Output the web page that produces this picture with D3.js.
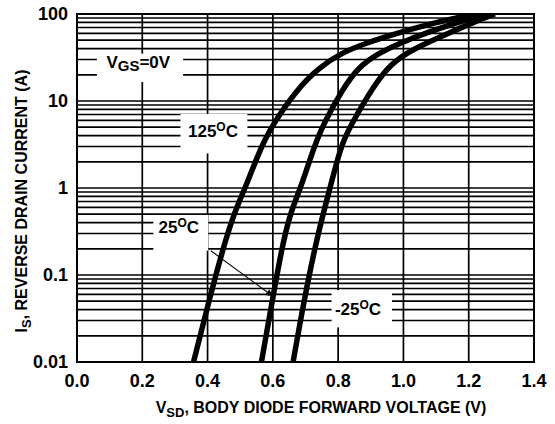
<!DOCTYPE html>
<html><head><meta charset="utf-8">
<script src="https://cdn.jsdelivr.net/npm/d3@7"></script>
<style>
html,body{margin:0;padding:0;background:#fff;}
text{font-family:"Liberation Sans",Arial,sans-serif;font-weight:bold;fill:#000;}
</style></head>
<body><svg id="c" width="555" height="424"></svg>
<script>
// ---- data ----
const xTickValues = [0.0, 0.2, 0.4, 0.6, 0.8, 1.0, 1.2, 1.4];
const yTickValues = [0.01, 0.1, 1, 10, 100];
const yTickLabels = ["0.01", "0.1", "1", "10", "100"];
const seriesNames = ["125\u00B0C", "25\u00B0C", "-25\u00B0C"];
const current125 = [0.01, 0.05, 0.2, 0.5, 1, 2.27, 3.56, 5.58, 13.4, 24.6, 35.6, 46.4, 60.6, 79, 100];
const voltage125 = [0.357, 0.404, 0.447, 0.480, 0.515, 0.552, 0.575, 0.603, 0.672, 0.744, 0.81, 0.885, 0.985, 1.09, 1.22];
const current25  = [0.01, 0.05, 0.2, 0.5, 1, 2.27, 3.56, 5.58, 13.4, 24.6, 35.6, 46.4, 60.6, 79, 100];
const voltage25  = [0.565, 0.598, 0.627, 0.652, 0.685, 0.716, 0.735, 0.757, 0.812, 0.862, 0.925, 0.99, 1.07, 1.16, 1.25];
const currentM25 = [0.01, 0.05, 0.27, 1, 2.27, 3.56, 5.58, 11.1, 24.6, 35.6, 46.4, 60.6, 79, 100];
const voltageM25 = [0.662, 0.695, 0.735, 0.775, 0.80, 0.817, 0.843, 0.888, 0.95, 1.01, 1.07, 1.14, 1.21, 1.28];

const svg = d3.select("#c");
const L = 77, R = 534, T = 14, B = 362;
const x = d3.scaleLinear().domain([0, 1.4]).range([L, R]);
const y = d3.scaleLog().domain([0.01, 100]).range([B, T]);

// grid
const g = svg.append("g");
const minorVals = [];
[0.01, 0.1, 1, 10].forEach(d => { for (let m = 1; m <= 9; m++) minorVals.push(d * m); });
minorVals.push(100);
g.selectAll("line.h").data(minorVals).enter().append("line")
  .attr("x1", L).attr("x2", R).attr("y1", d => y(d)).attr("y2", d => y(d))
  .attr("stroke", "#000").attr("stroke-width", 1.7);
g.selectAll("line.v").data(xTickValues).enter().append("line")
  .attr("x1", d => x(d)).attr("x2", d => x(d)).attr("y1", T).attr("y2", B)
  .attr("stroke", "#000").attr("stroke-width", 1.7);
svg.append("rect").attr("x", L).attr("y", T).attr("width", R - L).attr("height", B - T)
  .attr("fill", "none").attr("stroke", "#000").attr("stroke-width", 2);

// label boxes (white masks)
const boxes = [
  [x(0.061), y(35), x(0.325), y(16.5)],
  [x(0.317), y(7.1), x(0.522), y(2.5)],
  [x(0.234), y(0.49), x(0.402), y(0.19)],
  [x(0.78), y(0.067), x(0.965), y(0.025)]
];
svg.selectAll("rect.box").data(boxes).enter().append("rect")
  .attr("x", d => d[0]).attr("y", d => d[1]).attr("width", d => d[2] - d[0]).attr("height", d => d[3] - d[1])
  .attr("fill", "#fff");

// curves
const series = [
  {name: seriesNames[0], I: current125, V: voltage125},
  {name: seriesNames[1], I: current25, V: voltage25},
  {name: seriesNames[2], I: currentM25, V: voltageM25}
];
svg.append("clipPath").attr("id", "clip").append("rect").attr("x", L).attr("y", T - 1).attr("width", R - L).attr("height", B - T + 2);
const line = d3.line().x(d => x(d[0])).y(d => y(d[1])).curve(d3.curveBasis);
svg.append("g").attr("clip-path", "url(#clip)").selectAll("path").data(series).enter().append("path")
  .attr("d", s => line(s.V.map((v, i) => [v, s.I[i]])))
  .attr("fill", "none").attr("stroke", "#000").attr("stroke-width", 5.5).attr("stroke-linecap", "butt");

// annotations
const fs = 17;
function degLabel(tx, ty, num) {
  const t = svg.append("text").attr("x", tx).attr("y", ty).attr("font-size", fs);
  t.append("tspan").text(num);
  t.append("tspan").attr("font-size", 12).attr("dy", -6).text("O");
  t.append("tspan").attr("dy", 6).text("C");
}
const vt = svg.append("text").attr("x", x(0.09)).attr("y", y(24)).attr("font-size", fs);
vt.append("tspan").text("V");
vt.append("tspan").attr("font-size", 15).attr("dy", 3).text("GS");
vt.append("tspan").attr("dy", -3).text("=0V");
degLabel(x(0.34), y(3.9), "125");
degLabel(x(0.25), y(0.3), "25");
degLabel(x(0.79), y(0.035), "-25");

// arrow
const defs = svg.append("defs");
defs.append("marker").attr("id", "ah").attr("viewBox", "0 0 10 10").attr("refX", 10).attr("refY", 5)
  .attr("markerWidth", 9).attr("markerHeight", 7).attr("markerUnits", "userSpaceOnUse").attr("orient", "auto")
  .append("path").attr("d", "M0,0 L10,5 L0,10 Z").attr("fill", "#000");
svg.append("line").attr("x1", x(0.41)).attr("y1", y(0.19)).attr("x2", x(0.6)).attr("y2", y(0.057))
  .attr("stroke", "#000").attr("stroke-width", 1.1).attr("marker-end", "url(#ah)");

// tick labels
svg.selectAll("text.xt").data(xTickValues).enter().append("text")
  .attr("x", d => x(d)).attr("y", 387).attr("text-anchor", "middle").attr("font-size", 18)
  .text(d => d.toFixed(1));
svg.selectAll("text.yt").data(yTickValues).enter().append("text")
  .attr("x", 68).attr("y", d => y(d) + 6).attr("text-anchor", "end").attr("font-size", 18)
  .text((d, i) => yTickLabels[i]);

// axis titles
const xt = svg.append("text").attr("x", 321).attr("y", 413).attr("text-anchor", "middle").attr("font-size", 16);
xt.append("tspan").text("V");
xt.append("tspan").attr("font-size", 13).attr("dy", 4).text("SD");
xt.append("tspan").attr("dy", -4).text(", BODY DIODE FORWARD VOLTAGE (V)");
const yt = svg.append("text").attr("transform", "translate(27,201) rotate(-90)").attr("text-anchor", "middle").attr("font-size", 16);
yt.append("tspan").text("I");
yt.append("tspan").attr("font-size", 13).attr("dy", 4).text("S");
yt.append("tspan").attr("dy", -4).text(", REVERSE DRAIN CURRENT (A)");
</script></body></html>
